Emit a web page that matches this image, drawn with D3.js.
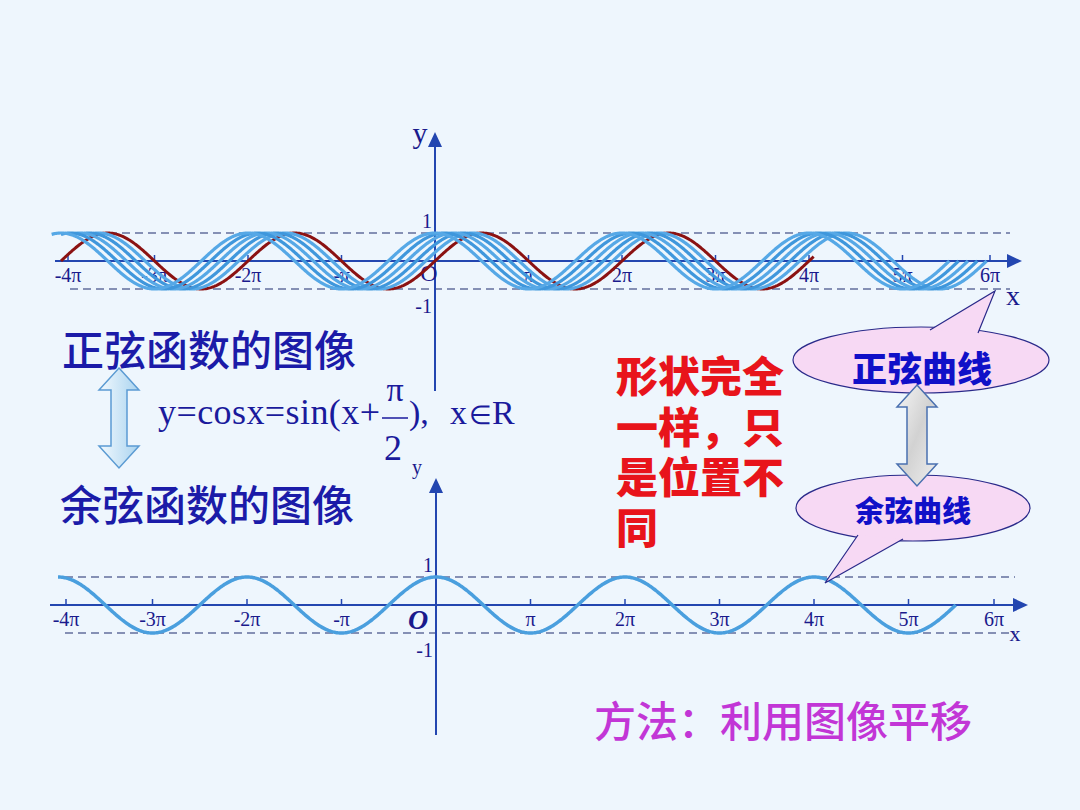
<!DOCTYPE html>
<html>
<head>
<meta charset="utf-8">
<script src="https://cdn.jsdelivr.net/npm/d3@7"></script>
<style>
  body { margin: 0; background: #eef6fd; }
  svg { display: block; }
  .cjk { font-family: "Noto Sans CJK SC", sans-serif; }
  .serif { font-family: "Liberation Serif", "Times New Roman", serif; }
</style>
</head>
<body>
<div id="chart"></div>
<script>
// values are in units of pi
var tickValues = [-4, -3, -2, -1, 1, 2, 3, 4, 5, 6];
var tickLabels = ["-4\u03c0", "-3\u03c0", "-2\u03c0", "-\u03c0", "\u03c0", "2\u03c0", "3\u03c0", "4\u03c0", "5\u03c0", "6\u03c0"];
var yTicks = [1, -1];

// red curve y = sin x, shown from..to
var sineRange = [-4, 4.05];
// shifted copies y = sin(x + shift), each drawn from start..end
var shifts = [0.1, 0.2, 0.3, 0.4, 0.5];
var shiftStarts = [-3.7, -3.8, -3.9, -4.0, -4.1];
var shiftEnds = [5.9, 5.8, 5.7, 5.6, 5.5];
// lower chart y = cos x
var cosRange = [-4, 5.5];

var W = 1080, H = 810;
var PI = Math.PI;
var axisColor = "#2346b0", labelColor = "#1a1a8c";

var svg = d3.select("#chart").append("svg").attr("width", W).attr("height", H);
svg.append("rect").attr("width", W).attr("height", H).attr("fill", "#eef6fd");

var defs = svg.append("defs");
var g1 = defs.append("linearGradient").attr("id", "blueArrow").attr("x1", 0).attr("x2", 1);
g1.append("stop").attr("offset", 0).attr("stop-color", "#f2f9fe");
g1.append("stop").attr("offset", 1).attr("stop-color", "#a9d3ef");
var g2 = defs.append("linearGradient").attr("id", "grayArrow").attr("x1", 0).attr("x2", 1).attr("y1", 0).attr("y2", 1);
g2.append("stop").attr("offset", 0).attr("stop-color", "#f6f6f6");
g2.append("stop").attr("offset", 0.5).attr("stop-color", "#d2d2d2");
g2.append("stop").attr("offset", 1).attr("stop-color", "#efefef");

// builds one coordinate system (axes, ticks, dashed lines)
function drawSystem(opt) {
    var x = d3.scaleLinear().domain([-4 * PI, 6 * PI]).range(opt.xr);
    var y = d3.scaleLinear().domain([-1, 1]).range(opt.yr);
    var g = svg.append("g");

    // dashed y=1 / y=-1
    g.selectAll("line.dash").data(yTicks).enter().append("line")
        .attr("class", "dash")
        .attr("x1", opt.dashX[0]).attr("x2", opt.dashX[1])
        .attr("y1", function (d) { return y(d); }).attr("y2", function (d) { return y(d); })
        .attr("stroke", "#1c2a6c").attr("stroke-width", 1).attr("stroke-dasharray", "8,5");

    // x axis line + arrow
    var y0 = y(0);
    g.append("line").attr("x1", opt.axisX[0]).attr("x2", opt.axisX[1] - 12)
        .attr("y1", y0).attr("y2", y0).attr("stroke", axisColor).attr("stroke-width", 2);
    g.append("path").attr("d", "M" + opt.axisX[1] + "," + y0 + "L" + (opt.axisX[1] - 15) + "," + (y0 - 7) +
        "L" + (opt.axisX[1] - 15) + "," + (y0 + 7) + "Z").attr("fill", axisColor);

    // y axis line + arrow
    var xa = x(0);
    g.append("line").attr("x1", xa).attr("x2", xa)
        .attr("y1", opt.axisY[0]).attr("y2", opt.axisY[1] + 12).attr("stroke", axisColor).attr("stroke-width", 2);
    g.append("path").attr("d", "M" + xa + "," + opt.axisY[1] + "L" + (xa - 7) + "," + (opt.axisY[1] + 15) +
        "L" + (xa + 7) + "," + (opt.axisY[1] + 15) + "Z").attr("fill", axisColor);

    // ticks and labels via d3 axis
    var ax = d3.axisBottom(x)
        .tickValues(tickValues.map(function (v) { return v * PI; }))
        .tickFormat(function (d, i) { return tickLabels[i]; })
        .tickSizeInner(-6).tickSizeOuter(0).tickPadding(7);
    var axG = g.append("g").attr("transform", "translate(0," + y0 + ")").call(ax);
    axG.select(".domain").remove();
    axG.selectAll(".tick line").attr("stroke", axisColor).attr("stroke-width", 1.5);
    axG.selectAll(".tick text").attr("class", "serif").attr("fill", labelColor)
        .attr("font-size", 20).attr("font-family", "Liberation Serif, serif");
    // the hand-placed end ticks of the original sit a little inward
    var n = tickValues.length;
    axG.selectAll(".tick").attr("transform", function (d, i) {
        var nudge = i === 0 ? opt.endNudge[0] : (i === n - 1 ? opt.endNudge[1] : 0);
        return "translate(" + (x(d) + nudge) + ",0)";
    });

    // 1 / -1 labels
    g.selectAll("text.yl").data(yTicks).enter().append("text")
        .attr("class", "serif yl")
        .attr("x", xa - 3)
        .attr("y", function (d) { return d > 0 ? y(d) - 5 : y(d) + 24; })
        .attr("text-anchor", "end").attr("font-size", 20).attr("fill", labelColor)
        .text(function (d) { return d; });

    return { x: x, y: y, g: g };
}

function curve(sys, fn, from, to) {
    var pts = d3.range(from, to + 0.0001, 0.01).map(function (t) { return [t * PI, fn(t * PI)]; });
    return d3.line().x(function (p) { return sys.x(p[0]); }).y(function (p) { return sys.y(p[1]); })(pts);
}

// ---------- upper system ----------
var topSys = drawSystem({
    xr: [61, 996], yr: [289, 233],
    dashX: [70, 1010], axisX: [55, 1022], axisY: [391, 132], endNudge: [7, -6]
});
topSys.g.append("text").attr("class", "serif").attr("x", 429).attr("y", 281)
    .attr("font-size", 24).attr("fill", labelColor).attr("text-anchor", "middle").text("O");
topSys.g.append("text").attr("class", "serif").attr("x", 420).attr("y", 143)
    .attr("font-size", 30).attr("fill", labelColor).attr("text-anchor", "middle").text("y");
topSys.g.append("text").attr("class", "serif").attr("x", 1013).attr("y", 305)
    .attr("font-size", 28).attr("fill", labelColor).attr("text-anchor", "middle").text("x");

topSys.g.append("path")
    .attr("d", curve(topSys, Math.sin, sineRange[0], sineRange[1]))
    .attr("fill", "none").attr("stroke", "#8b1212").attr("stroke-width", 3);

topSys.g.selectAll("path.shift").data(shifts).enter().append("path")
    .attr("class", "shift")
    .attr("d", function (s, i) {
        return curve(topSys, function (v) { return Math.sin(v + s * PI); }, shiftStarts[i], shiftEnds[i]);
    })
    .attr("fill", "none")
    .attr("stroke", function (s, i) { return i % 2 ? "#3f97dc" : "#56a8e6"; })
    .attr("stroke-width", 3.2);

// ---------- lower system ----------
var botSys = drawSystem({
    xr: [58, 1003], yr: [633, 577],
    dashX: [65, 1015], axisX: [50, 1028], axisY: [735, 478], endNudge: [8, -9]
});
botSys.g.append("text").attr("class", "serif").attr("x", 418).attr("y", 629)
    .attr("font-size", 28).attr("font-weight", "bold").attr("font-style", "italic")
    .attr("fill", labelColor).attr("text-anchor", "middle").text("O");
botSys.g.append("text").attr("class", "serif").attr("x", 417).attr("y", 474)
    .attr("font-size", 20).attr("fill", labelColor).attr("text-anchor", "middle").text("y");
botSys.g.append("text").attr("class", "serif").attr("x", 1015).attr("y", 641)
    .attr("font-size", 22).attr("fill", labelColor).attr("text-anchor", "middle").text("x");

botSys.g.append("path")
    .attr("d", curve(botSys, Math.cos, cosRange[0], cosRange[1]))
    .attr("fill", "none").attr("stroke", "#4a9fde").attr("stroke-width", 3.5);

// ---------- texts ----------
function cjk(txt, x, y, size, color, weight, anchor) {
    return svg.append("text").attr("class", "cjk").attr("x", x).attr("y", y)
        .attr("dominant-baseline", "central").attr("font-size", size)
        .attr("font-weight", weight || 400).attr("fill", color)
        .attr("text-anchor", anchor || "start").text(txt);
}
cjk("正弦函数的图像", 62, 347, 42, "#1b1ba8", 500);
cjk("余弦函数的图像", 60, 502, 42, "#1b1ba8", 500);

// double arrow shape
function dblArrow(cx, y1, y2, sw, hw, hh) {
    return "M" + cx + "," + y1 + "L" + (cx + hw) + "," + (y1 + hh) + "L" + (cx + sw) + "," + (y1 + hh) +
        "L" + (cx + sw) + "," + (y2 - hh) + "L" + (cx + hw) + "," + (y2 - hh) + "L" + cx + "," + y2 +
        "L" + (cx - hw) + "," + (y2 - hh) + "L" + (cx - sw) + "," + (y2 - hh) + "L" + (cx - sw) + "," + (y1 + hh) +
        "L" + (cx - hw) + "," + (y1 + hh) + "Z";
}
svg.append("path").attr("d", dblArrow(119, 368, 468, 8, 20, 22))
    .attr("fill", "url(#blueArrow)").attr("stroke", "#5b9bd3").attr("stroke-width", 1.5);

// formula
var f = svg.append("g").attr("fill", "#1a1a9c");
f.append("text").attr("class", "serif").attr("x", 158).attr("y", 424).attr("font-size", 36)
    .attr("textLength", 222).attr("lengthAdjust", "spacing")
    .text("y=cosx=sin(x+");
f.append("text").attr("class", "serif").attr("x", 395).attr("y", 401).attr("font-size", 34)
    .attr("text-anchor", "middle").text("\u03c0");
f.append("line").attr("x1", 382).attr("x2", 408).attr("y1", 418).attr("y2", 418)
    .attr("stroke", "#1a1a9c").attr("stroke-width", 1.5);
f.append("text").attr("class", "serif").attr("x", 393).attr("y", 460).attr("font-size", 36)
    .attr("text-anchor", "middle").text("2");
f.append("text").attr("class", "serif").attr("x", 409).attr("y", 424).attr("font-size", 34)
    .text("),");
var xr = f.append("text").attr("class", "serif").attr("x", 450).attr("y", 424).attr("font-size", 34);
xr.append("tspan").text("x");
xr.append("tspan").attr("font-size", 26).attr("dx", 2).text("\u2208");
xr.append("tspan").text("R");

// red statement, one text block with four lines
var redLines = ["形状完全", "一样，只", "是位置不", "同"];
var red = svg.append("text").attr("class", "cjk").attr("font-size", 42).attr("font-weight", 900)
    .attr("fill", "#e8141b");
red.selectAll("tspan").data(redLines).enter().append("tspan")
    .attr("x", 616)
    .attr("y", function (d, i) { return 392 + i * 50.5; })
    .text(function (d) { return d; });

// callouts
function callout(cx, cy, rx, ry, tail) {
    var g = svg.append("g");
    g.append("ellipse").attr("cx", cx).attr("cy", cy).attr("rx", rx).attr("ry", ry)
        .attr("fill", "#f7d9f4").attr("stroke", "#2a2a8a").attr("stroke-width", 1.2);
    g.append("path").attr("d", "M" + tail[0] + "L" + tail[1] + "L" + tail[2] + "Z")
        .attr("fill", "#f7d9f4").attr("stroke", "none");
    g.append("path").attr("d", "M" + tail[0] + "L" + tail[1] + "L" + tail[2])
        .attr("fill", "none").attr("stroke", "#2a2a8a").attr("stroke-width", 1.2);
    return g;
}
callout(921, 360, 128, 33, [[930, 330], [995, 291], [978, 333]]);
cjk("正弦曲线", 922, 366, 35, "#1010c8", 900, "middle");

callout(913, 508, 117, 33, [[858, 535], [825, 583], [903, 539]]);
cjk("余弦曲线", 913, 509, 29, "#1010c8", 900, "middle");

svg.append("path").attr("d", dblArrow(917, 385, 486, 10, 20, 22))
    .attr("fill", "url(#grayArrow)").attr("stroke", "#4a70b0").attr("stroke-width", 1.5);

cjk("方法：利用图像平移", 594, 718, 42, "#c236d6", 500);
</script>
</body>
</html>
